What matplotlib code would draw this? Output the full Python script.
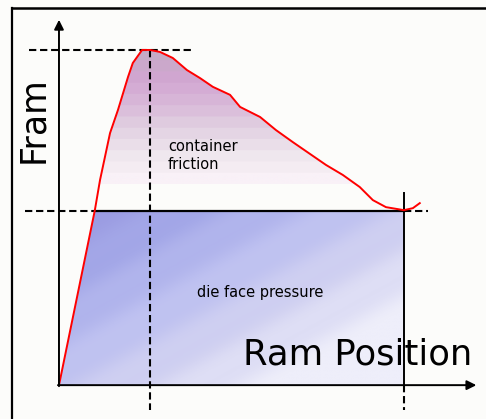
import numpy as np
import matplotlib
matplotlib.use("Agg")
import matplotlib.pyplot as plt
from matplotlib.colors import LinearSegmentedColormap
from matplotlib.patches import Polygon
from matplotlib.lines import Line2D

# ram force vs ram position (schematic, position 0-100 = stroke, force 0-100 = peak)
ram_pos = [0, 10.4, 11.9, 14.8, 17.1, 20.0, 21.4, 24.1, 26.4, 29.3, 33.0, 37.1,
           40.9, 44.6, 49.6, 52.5, 58.3, 62.9, 67.8, 77.4, 82.3, 87.2, 91.0,
           94.8, 98.3, 100.0, 102.6, 104.6]
ram_force = [0, 52.2, 61.2, 75.2, 82.1, 91.9, 96.1, 100, 100, 99.4, 97.6, 94.0,
             91.6, 89.0, 86.6, 83.0, 80.0, 76.1, 72.5, 65.7, 62.7, 59.1, 55.2,
             53.1, 52.5, 52.2, 52.8, 54.3]
die_pressure = 52.0
friction_fill_floor = 60.0
peak_pos = 26.4
stroke_end = 100.0

x = np.array(ram_pos)
y = np.array(ram_force)

fig = plt.figure(figsize=(4.86, 4.19), dpi=100)
fig.patch.set_facecolor("#fcfcfa")
ax = fig.add_axes([0, 0, 1, 1])
ax.set_xlim(-17.1, 123.8)
ax.set_ylim(-10.1, 114.9)
ax.axis("off")

# die face pressure region (blue diagonal gradient)
x_die = np.interp(die_pressure, y[:3], x[:3])
die_poly = Polygon([(0, 0), (x_die, die_pressure), (stroke_end, die_pressure),
                    (stroke_end, 0)], closed=True, facecolor="none", edgecolor="none")
ax.add_patch(die_poly)
gx, gy = np.meshgrid(np.linspace(0, 1, 200), np.linspace(0, 1, 200))
diag = np.clip(0.65 * gx + 0.6 * (1 - gy), 0, 1)
diag = diag + 0.03 * np.sin(diag * 40)
blue_cmap = LinearSegmentedColormap.from_list(
    "blue", ["#9898e0", "#a4a8e8", "#bcbff0", "#d4d4f2", "#eeeefa"])
im = ax.imshow(diag, cmap=blue_cmap, extent=(0, stroke_end, 0, die_pressure),
               origin="lower", aspect="auto", zorder=1)
im.set_clip_path(die_poly)

# container friction region (pink horizontal bands)
above = y >= friction_fill_floor
i0 = np.argmax(above)
i1 = len(y) - np.argmax(above[::-1]) - 1
xa = np.interp(friction_fill_floor, [y[i0 - 1], y[i0]], [x[i0 - 1], x[i0]])
xb = np.interp(friction_fill_floor, [y[i1 + 1], y[i1]], [x[i1 + 1], x[i1]])
pts = [(xa, friction_fill_floor)] + list(zip(x[i0:i1 + 1], y[i0:i1 + 1])) + \
      [(xb, friction_fill_floor)]
fr_poly = Polygon(pts, closed=True, facecolor="none", edgecolor="none")
ax.add_patch(fr_poly)
bands = np.linspace(0, 1, 12)
bands = np.repeat(bands, 20).reshape(-1, 1)
pink_cmap = LinearSegmentedColormap.from_list(
    "pink", ["#f9f1f7", "#efe6ee", "#e2d2e2", "#d9b9d9", "#d2a6d2", "#c6aac6"])
im2 = ax.imshow(bands, cmap=pink_cmap, extent=(0, stroke_end, friction_fill_floor, 100),
                origin="lower", aspect="auto", zorder=1)
im2.set_clip_path(fr_poly)

# outline of die pressure block
ax.plot([x_die, stroke_end], [die_pressure, die_pressure], color="black", lw=1.6, zorder=3)
ax.plot([stroke_end, stroke_end], [0, 57.3], color="black", lw=1.4, zorder=3)

# dashed guides
dash = dict(color="black", lw=1.5, dashes=(3.5, 1.8), zorder=2)
ax.plot([-8.7, 38.8], [100, 100], **dash)
ax.plot([peak_pos, peak_pos], [100, -7.5], **dash)
ax.plot([-9.9, x_die], [die_pressure, die_pressure], **dash)
ax.plot([stroke_end, 107.0], [die_pressure, die_pressure], **dash)
ax.plot([stroke_end, stroke_end], [0, -7.5], **dash)

# ram force curve
ax.plot(x, y, color="#ff0000", lw=1.4, zorder=4)

# axes arrows
ax.annotate("", xy=(0, 109), xytext=(0, -0.3),
            arrowprops=dict(arrowstyle="-|>", color="black", lw=1.4,
                            mutation_scale=14, shrinkA=0, shrinkB=0), zorder=5)
ax.annotate("", xy=(121, 0), xytext=(-0.3, 0),
            arrowprops=dict(arrowstyle="-|>", color="black", lw=1.4,
                            mutation_scale=14, shrinkA=0, shrinkB=0), zorder=5)

# frame border
fig.add_artist(Line2D([12 / 486, 12 / 486], [0, 1 - 8 / 419], color="black", lw=1.6))
fig.add_artist(Line2D([12 / 486, 1], [1 - 8 / 419, 1 - 8 / 419], color="black", lw=1.8))

# labels
ax.text(-7.5, 79.1, "Fram", rotation=90, fontsize=25, ha="center", va="center")
ax.text(53.3, 9.25, "Ram Position", fontsize=25.5, ha="left", va="center", zorder=6)
ax.text(31.6, 71.3, "container", fontsize=10.5, ha="left", va="center", zorder=6)
ax.text(31.6, 65.7, "friction", fontsize=10.5, ha="left", va="center", zorder=6)
ax.text(58.3, 27.5, "die face pressure", fontsize=10.5, ha="center", va="center", zorder=6)

fig.savefig("out.png", dpi=100, facecolor=fig.get_facecolor())
